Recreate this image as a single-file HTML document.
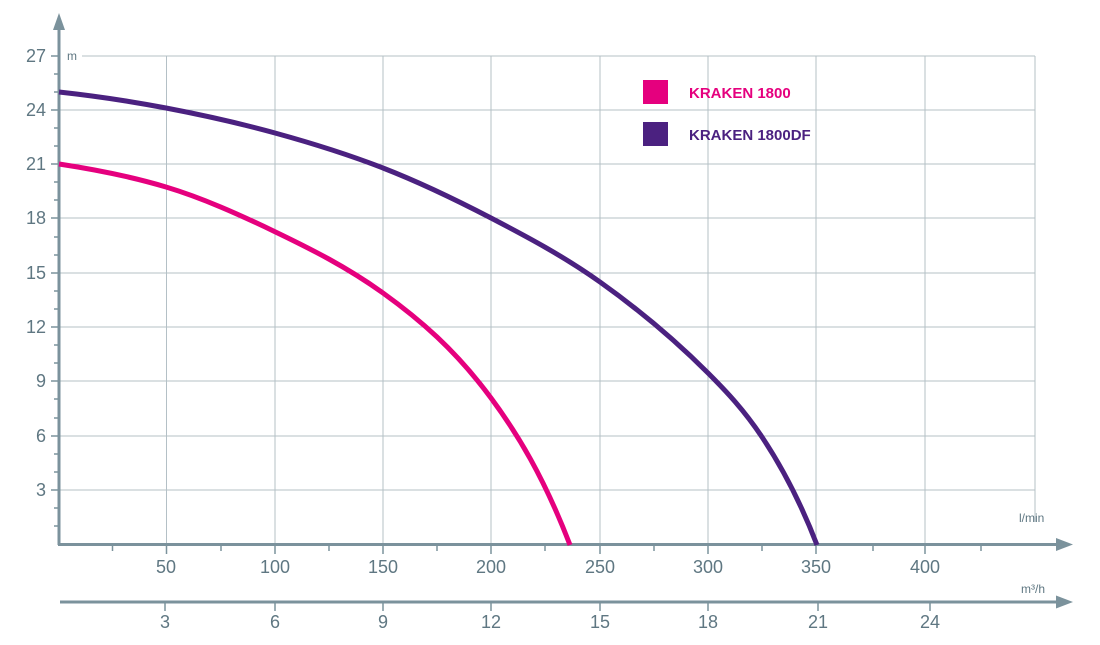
<!DOCTYPE html>
<html><head><meta charset="utf-8"><style>
html,body{margin:0;padding:0;background:#fff;}
svg{display:block;font-family:"Liberation Sans",sans-serif;}
</style></head><body>
<svg width="1100" height="645" viewBox="0 0 1100 645">
<g stroke="#b4c0c6" stroke-width="1" fill="none">
<line x1="82" y1="56" x2="1035" y2="56"/>
<line x1="59" y1="110" x2="1035" y2="110"/>
<line x1="59" y1="164" x2="1035" y2="164"/>
<line x1="59" y1="218" x2="1035" y2="218"/>
<line x1="59" y1="273" x2="1035" y2="273"/>
<line x1="59" y1="327" x2="1035" y2="327"/>
<line x1="59" y1="381" x2="1035" y2="381"/>
<line x1="59" y1="436" x2="1035" y2="436"/>
<line x1="59" y1="490" x2="1035" y2="490"/>
<line x1="166.5" y1="56" x2="166.5" y2="544"/>
<line x1="275" y1="56" x2="275" y2="544"/>
<line x1="383" y1="56" x2="383" y2="544"/>
<line x1="491" y1="56" x2="491" y2="544"/>
<line x1="600" y1="56" x2="600" y2="544"/>
<line x1="708" y1="56" x2="708" y2="544"/>
<line x1="816" y1="56" x2="816" y2="544"/>
<line x1="925" y1="56" x2="925" y2="544"/>
<line x1="1035" y1="56" x2="1035" y2="522"/>
</g>
<g stroke="#7b929c" fill="none">
<line x1="59" y1="545" x2="59" y2="25" stroke-width="3"/>
<line x1="58" y1="544.5" x2="1060" y2="544.5" stroke-width="3"/>
<line x1="60" y1="602" x2="1060" y2="602" stroke-width="3"/>
<g stroke-width="1.5">
<line x1="51" y1="56" x2="59" y2="56"/><line x1="51" y1="110" x2="59" y2="110"/><line x1="51" y1="164" x2="59" y2="164"/><line x1="51" y1="218" x2="59" y2="218"/><line x1="51" y1="273" x2="59" y2="273"/><line x1="51" y1="327" x2="59" y2="327"/><line x1="51" y1="381" x2="59" y2="381"/><line x1="51" y1="436" x2="59" y2="436"/><line x1="51" y1="490" x2="59" y2="490"/>
<line x1="54" y1="74" x2="59" y2="74"/><line x1="54" y1="92" x2="59" y2="92"/><line x1="54" y1="128" x2="59" y2="128"/><line x1="54" y1="146" x2="59" y2="146"/><line x1="54" y1="182" x2="59" y2="182"/><line x1="54" y1="200" x2="59" y2="200"/><line x1="54" y1="237" x2="59" y2="237"/><line x1="54" y1="255" x2="59" y2="255"/><line x1="54" y1="291" x2="59" y2="291"/><line x1="54" y1="309" x2="59" y2="309"/><line x1="54" y1="345" x2="59" y2="345"/><line x1="54" y1="363" x2="59" y2="363"/><line x1="54" y1="399" x2="59" y2="399"/><line x1="54" y1="418" x2="59" y2="418"/><line x1="54" y1="454" x2="59" y2="454"/><line x1="54" y1="472" x2="59" y2="472"/><line x1="54" y1="508" x2="59" y2="508"/><line x1="54" y1="526" x2="59" y2="526"/>
<line x1="112.5" y1="545" x2="112.5" y2="551"/><line x1="166.5" y1="545" x2="166.5" y2="554"/><line x1="221" y1="545" x2="221" y2="551"/><line x1="275" y1="545" x2="275" y2="554"/><line x1="329" y1="545" x2="329" y2="551"/><line x1="383" y1="545" x2="383" y2="554"/><line x1="437" y1="545" x2="437" y2="551"/><line x1="491" y1="545" x2="491" y2="554"/><line x1="545" y1="545" x2="545" y2="551"/><line x1="600" y1="545" x2="600" y2="554"/><line x1="654" y1="545" x2="654" y2="551"/><line x1="708" y1="545" x2="708" y2="554"/><line x1="762" y1="545" x2="762" y2="551"/><line x1="816" y1="545" x2="816" y2="554"/><line x1="873" y1="545" x2="873" y2="551"/><line x1="925" y1="545" x2="925" y2="554"/><line x1="981" y1="545" x2="981" y2="551"/>
<line x1="165" y1="602" x2="165" y2="611"/><line x1="275" y1="602" x2="275" y2="611"/><line x1="383" y1="602" x2="383" y2="611"/><line x1="491" y1="602" x2="491" y2="611"/><line x1="600" y1="602" x2="600" y2="611"/><line x1="708" y1="602" x2="708" y2="611"/><line x1="818" y1="602" x2="818" y2="611"/><line x1="930" y1="602" x2="930" y2="611"/>
</g>
</g>
<g fill="#7b929c">
<polygon points="59,13 53,30 65,30"/>
<polygon points="1073,544.5 1056,538 1056,551"/>
<polygon points="1073,602 1056,595.5 1056,608.5"/>
</g>
<g fill="#5f7782" font-size="18" text-anchor="end">
<text x="46" y="62">27</text><text x="46" y="116">24</text><text x="46" y="170">21</text><text x="46" y="224">18</text><text x="46" y="279">15</text><text x="46" y="333">12</text><text x="46" y="387">9</text><text x="46" y="442">6</text><text x="46" y="496">3</text>
</g>
<g fill="#5f7782" font-size="18" text-anchor="middle">
<text x="166" y="573">50</text><text x="275" y="573">100</text><text x="383" y="573">150</text><text x="491" y="573">200</text><text x="600" y="573">250</text><text x="708" y="573">300</text><text x="816" y="573">350</text><text x="925" y="573">400</text>
<text x="165" y="628">3</text><text x="275" y="628">6</text><text x="383" y="628">9</text><text x="491" y="628">12</text><text x="600" y="628">15</text><text x="708" y="628">18</text><text x="818" y="628">21</text><text x="930" y="628">24</text>
</g>
<g fill="#5f7782" font-size="12">
<text x="67" y="60">m</text>
<text x="1019" y="522">l/min</text>
<text x="1021" y="593">m³/h</text>
</g>
<path d="M59,164 C94.7,169.4 130.3,176.3 166,187 C202.3,197.9 238.7,214.3 275,231.7 C311,249 347,267.1 383,293 C419,318.9 455,349.4 491,398 C517.3,433.5 543.7,476.6 570,545" fill="none" stroke="#e5007e" stroke-width="5"/>
<path d="M59,92 C94.7,95.9 130.3,101.2 166,108 C202.3,114.9 238.7,123 275,133 C311,142.9 347,154 383,168 C419,182 455,199.3 491,218 C527.3,236.9 563.7,256.2 600,282 C636,307.6 672,337 708,373 C726,391 744,410 762,437 C780.3,464.5 798.7,497.4 817,545" fill="none" stroke="#4b2180" stroke-width="5"/>
<rect x="643" y="80" width="25" height="24" fill="#e5007e"/>
<rect x="643" y="122" width="25" height="24" fill="#4b2180"/>
<text x="689" y="98" font-size="15" font-weight="bold" fill="#e5007e">KRAKEN 1800</text>
<text x="689" y="140" font-size="15" font-weight="bold" fill="#4b2180">KRAKEN 1800DF</text>
</svg>
</body></html>
